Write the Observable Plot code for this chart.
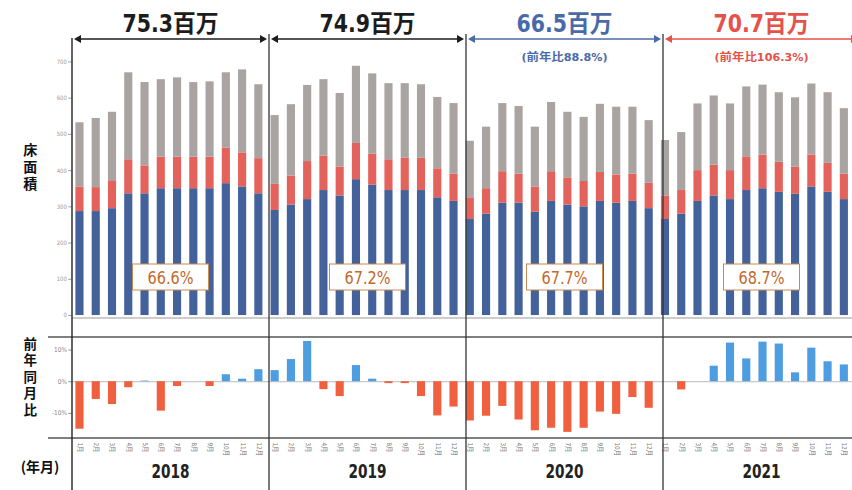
<!DOCTYPE html>
<html>
<head>
<meta charset="utf-8">
<script src="https://cdn.jsdelivr.net/npm/d3@7"></script>
<script src="https://cdn.jsdelivr.net/npm/@observablehq/plot@0.6"></script>
<style>
  body { margin: 0; background: #fff; }
  #wrap { position: relative; width: 852px; height: 490px; overflow: hidden; background: #fff; }
  #upper, #lower { position: absolute; left: 0; }
  #upper { top: 0; }
  #lower { top: 325px; }
</style>
</head>
<body>
<div id="wrap"><div id="upper"></div><div id="lower"></div></div>
<script>
// Monthly floor area (万㎡), split into three stacked groups, Jan–Dec of each year
const years = ["2018", "2019", "2020", "2021"];
const months = [1, 2, 3, 4, 5, 6, 7, 8, 9, 10, 11, 12];

const baseArea = [
  287, 287, 295, 336, 336, 350, 350, 350, 350, 364, 355, 336,
  290, 305, 320, 345, 330, 375, 360, 345, 345, 345, 325, 315,
  265, 280, 310, 310, 285, 315, 305, 300, 315, 310, 315, 295,
  265, 280, 315, 330, 320, 345, 350, 340, 335, 355, 340, 320
];
const middleArea = [
  68, 66, 77, 94, 77, 87, 87, 87, 87, 98, 94, 97,
  72, 80, 105, 95, 80, 100, 85, 85, 89, 89, 80, 75,
  60, 70, 87, 80, 70, 82, 75, 70, 80, 78, 75, 70,
  65, 65, 85, 85, 80, 93, 93, 83, 75, 88, 80, 70
];
const restArea = [
  177, 191, 189, 240, 230, 214, 219, 206, 208, 208, 229, 204,
  190, 197, 210, 211, 203, 213, 222, 210, 206, 203, 197, 195,
  156, 170, 188, 187, 165, 191, 181, 177, 188, 187, 185, 173,
  153, 160, 184, 191, 184, 193, 193, 192, 191, 196, 195, 181
];
// Change versus the same month of the previous year (%)
const yoyPct = [
  -15.0, -5.6, -7.2, -1.9, 0.2, -9.3, -1.5, 0.0, -1.5, 2.2, 0.8, 3.8,
  3.5, 7.0, 12.7, -2.5, -4.7, 5.1, 0.8, -0.6, -0.6, -4.7, -10.8, -8.0,
  -12.4, -10.9, -7.8, -12.1, -15.5, -14.7, -16.0, -14.7, -9.6, -10.3, -5.0, -8.4,
  0.0, -2.6, 0.0, 4.9, 12.2, 7.2, 12.5, 11.9, 2.8, 10.6, 6.3, 5.3
];

const totalLabels = ["75.3百万", "74.9百万", "66.5百万", "70.7百万"];
const ratioLabels = ["", "", "(前年比88.8%)", "(前年比106.3%)"];
const shareLabels = ["66.6%", "67.2%", "67.7%", "68.7%"];
const yTicks = [0, 100, 200, 300, 400, 500, 600, 700];
const pctTicks = [-10, 0, 10];

const seriesNames = ["base", "middle", "rest"];
const seriesColors = ["#43629b", "#e4625c", "#a9a4a1"];
const yearColors = ["#1c1c1c", "#1c1c1c", "#4a69a8", "#e5524a"];

const keys = [];
years.forEach(y => months.forEach(m => keys.push(`${y}-${String(m).padStart(2, "0")}`)));

const rows = [];
keys.forEach((k, i) => {
  rows.push({key: k, series: "base", value: baseArea[i]});
  rows.push({key: k, series: "middle", value: middleArea[i]});
  rows.push({key: k, series: "rest", value: restArea[i]});
});
const yoyRows = keys.map((k, i) => ({key: k, pct: yoyPct[i]}));

const sans = "'DejaVu Sans Condensed', 'Noto Sans CJK JP', sans-serif";
const cjk = "'Noto Sans CJK JP', sans-serif";
const W = 860;
const xScale = {type: "band", domain: keys, paddingInner: 0.5, paddingOuter: 0.25, round: false, axis: null};

const upper = Plot.plot({
  width: W, height: 320,
  marginLeft: 72, marginRight: 0, marginTop: 62, marginBottom: 2,
  x: xScale,
  y: {domain: [0, 700], axis: null},
  color: {domain: seriesNames, range: seriesColors},
  style: {background: "transparent", fontFamily: sans},
  marks: [
    Plot.axisY({ticks: yTicks, label: null, tickSize: 3, tickPadding: 2, fontSize: 6, color: "#9a9a9a"}),
    Plot.barY(rows, {x: "key", y: "value", fill: "series", order: seriesNames})
  ]
});
document.getElementById("upper").append(upper);

const lower = Plot.plot({
  width: W, height: 165,
  marginLeft: 72, marginRight: 0, marginTop: 12, marginBottom: 52,
  x: xScale,
  y: {domain: [-17.6, 14], axis: null},
  style: {background: "transparent", fontFamily: sans},
  marks: [
    Plot.ruleY([0], {stroke: "#aaa", strokeWidth: 0.8}),
    Plot.axisY({ticks: pctTicks, label: null, tickFormat: d => d + "%", tickSize: 3, tickPadding: 2, fontSize: 6.5, color: "#8a8a8a"}),
    Plot.barY(yoyRows, {x: "key", y: "pct", fill: d => d.pct >= 0 ? "#4d9de0" : "#f0603f"}),
    Plot.axisX({anchor: "bottom", label: null, tickSize: 0, tickPadding: 5, tickRotate: 90, fontSize: 6.5, color: "#777",
      tickFormat: d => `${+d.slice(5)}月`})
  ]
});
document.getElementById("lower").append(lower);

// Annotation layer: year dividers, period arrows, totals and shares
const xs = upper.scale("x");
const yU = upper.scale("y");
const yL = lower.scale("y");
const step = xs.apply(keys[1]) - xs.apply(keys[0]);
const gap = step - xs.bandwidth;
const edge = i => xs.apply(keys[0]) - gap / 2 + 12 * i * step;
const lowerTop = 325;

const svg = d3.select("#wrap").append("svg")
  .attr("width", 852).attr("height", 490)
  .style("position", "absolute").style("left", 0).style("top", 0)
  .style("font-family", sans);

const x0 = edge(0);
// panel frames
svg.append("line").attr("x1", x0).attr("x2", 852).attr("y1", yU.apply(0)).attr("y2", yU.apply(0))
  .attr("stroke", "#999").attr("stroke-width", 1);
[14, -17.6].forEach(v => {
  const y = lowerTop + yL.apply(v);
  svg.append("line").attr("x1", 48).attr("x2", 852).attr("y1", y).attr("y2", y)
    .attr("stroke", "#555").attr("stroke-width", 1.6);
});
svg.append("line").attr("x1", x0).attr("x2", x0).attr("y1", 38).attr("y2", 490)
  .attr("stroke", "#222").attr("stroke-width", 1.4);
for (let i = 1; i < 4; i++) {
  svg.append("line").attr("x1", edge(i)).attr("x2", edge(i)).attr("y1", 34).attr("y2", 490)
    .attr("stroke", "#333").attr("stroke-width", 1.3);
}

const arrowY = 39;
years.forEach((yr, i) => {
  const a = edge(i) + 2, b = edge(i + 1) - 2, c = yearColors[i];
  const mid = (edge(i) + edge(i + 1)) / 2;
  svg.append("line").attr("x1", a + 4).attr("x2", b - 4).attr("y1", arrowY).attr("y2", arrowY)
    .attr("stroke", c).attr("stroke-width", 1.6);
  svg.append("path").attr("d", `M${a},${arrowY} l7,-4 l0,8 z`).attr("fill", c);
  svg.append("path").attr("d", `M${b},${arrowY} l-7,-4 l0,8 z`).attr("fill", c);

  svg.append("text").attr("x", mid).attr("y", 32).attr("text-anchor", "middle")
    .attr("fill", c).attr("font-size", 24).attr("font-weight", 700)
    .attr("textLength", 96).attr("lengthAdjust", "spacingAndGlyphs")
    .text(totalLabels[i]);
  if (ratioLabels[i]) {
    svg.append("text").attr("x", mid).attr("y", 61).attr("text-anchor", "middle")
      .attr("fill", c).attr("font-size", 11).attr("font-weight", 700)
      .attr("textLength", i === 3 ? 94 : 86).attr("lengthAdjust", "spacingAndGlyphs")
      .text(ratioLabels[i]);
  }

  // share box
  svg.append("rect").attr("x", mid - 38).attr("y", 264).attr("width", 76).attr("height", 26)
    .attr("fill", "#fff").attr("stroke", "#c98a52").attr("stroke-width", 1);
  svg.append("text").attr("x", mid).attr("y", 284).attr("text-anchor", "middle")
    .attr("fill", "#c4672c").attr("font-size", 17)
    .attr("textLength", 46).attr("lengthAdjust", "spacingAndGlyphs").text(shareLabels[i]);

  // year label
  svg.append("text").attr("x", mid).attr("y", 478).attr("text-anchor", "middle")
    .attr("fill", "#222").attr("font-size", 20).attr("font-weight", 600)
    .attr("textLength", 38).attr("lengthAdjust", "spacingAndGlyphs").text(yr);
});

// vertical axis titles
function vtext(str, x, yCenter, size, spacing) {
  svg.append("text").attr("x", x).attr("y", yCenter)
    .style("writing-mode", "vertical-rl")
    .attr("text-anchor", "middle").attr("dominant-baseline", "middle")
    .attr("fill", "#111").attr("font-size", size).attr("letter-spacing", spacing)
    .attr("font-weight", 700).attr("font-family", cjk).text(str);
}
vtext("床面積", 28, 168, 14, 3);
vtext("前年同月比", 28, 378, 13.5, 3);

svg.append("text").attr("x", 40).attr("y", 472).attr("text-anchor", "middle")
  .attr("fill", "#111").attr("font-size", 14).attr("font-weight", 700)
  .attr("font-family", cjk).text("(年月)");
</script>
</body>
</html>
